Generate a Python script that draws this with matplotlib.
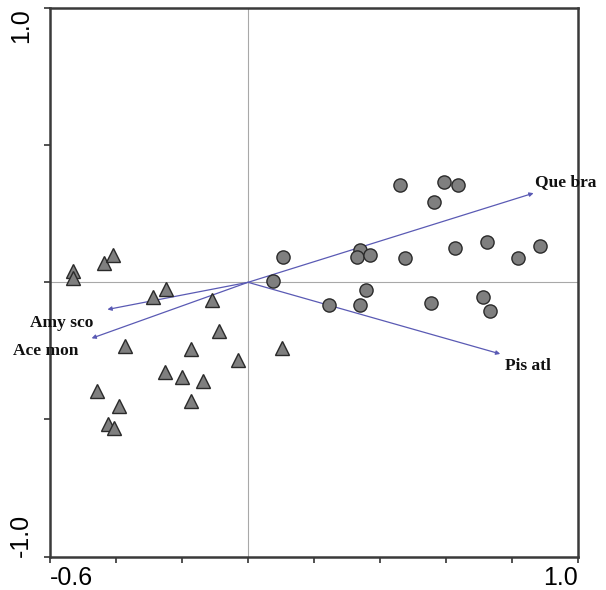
import matplotlib.pyplot as plt

# site scores
circle_x = [0.461, 0.595, 0.637, 0.562, 0.105, 0.339, 0.329, 0.368, 0.476, 0.627,
            0.725, 0.819, 0.883, 0.075, 0.358, 0.246, 0.339, 0.555, 0.711, 0.733]
circle_y = [0.353, 0.365, 0.355, 0.292, 0.094, 0.118, 0.094, 0.100, 0.089, 0.124,
            0.146, 0.089, 0.134, 0.006, -0.028, -0.082, -0.081, -0.076, -0.055, -0.103]

tri_x = [-0.531, -0.531, -0.436, -0.410, -0.248, -0.289, -0.109, -0.087, -0.372, -0.173,
         -0.031, 0.104, -0.251, -0.201, -0.137, -0.458, -0.391, -0.173, -0.425, -0.405]
tri_y = [0.043, 0.016, 0.069, 0.101, -0.024, -0.052, -0.064, -0.179, -0.231, -0.242,
         -0.282, -0.239, -0.328, -0.344, -0.359, -0.395, -0.450, -0.434, -0.515, -0.531]

# species arrows
species = ['Amy sco', 'Ace mon', 'Que bra', 'Pis atl']
arrow_x = [-0.426, -0.474, 0.865, 0.764]
arrow_y = [-0.099, -0.204, 0.325, -0.261]
label_x = [-0.661, -0.712, 0.870, 0.779]
label_y = [-0.147, -0.249, 0.364, -0.304]

xticks = [-0.6, -0.4, -0.2, 0.0, 0.2, 0.4, 0.6, 0.8, 1.0]
yticks = [-1.0, -0.5, 0.0, 0.5, 1.0]

fig = plt.figure(figsize=(6.06, 5.90), dpi=100)
ax = fig.add_axes([0.0825, 0.0565, 0.8715, 0.930])

ax.axhline(0, color='#a8a8a8', linewidth=0.8, zorder=1)
ax.axvline(0, color='#a8a8a8', linewidth=0.8, zorder=1)

for i in range(len(species)):
    ax.annotate('', xy=(arrow_x[i], arrow_y[i]), xytext=(0, 0),
                arrowprops=dict(arrowstyle='-|>', color='#5a5ab4', lw=0.9,
                                mutation_scale=6, shrinkA=0, shrinkB=0),
                zorder=2)
    ax.text(label_x[i], label_y[i], species[i], fontsize=12.5, fontweight='bold',
            family='Liberation Serif', va='center', ha='left', clip_on=False,
            color='#111111')

ax.plot(circle_x, circle_y, 'o', ms=9.5, mfc='#7f7f7f', mec='#2a2a2a', mew=1.0,
        linestyle='none', zorder=3)
ax.plot(tri_x, tri_y, '^', ms=9.5, mfc='#7f7f7f', mec='#2a2a2a', mew=1.0,
        linestyle='none', zorder=3)

ax.set_xlim(-0.6, 1.0)
ax.set_ylim(-1.0, 1.0)
ax.set_xticks(xticks)
ax.set_xticklabels(['-0.6'] + [''] * 7 + ['1.0'])
ax.set_yticks(yticks)
ax.set_yticklabels(['-1.0', '', '', '', '1.0'], rotation=90)
ax.tick_params(direction='out', length=4, width=1.2, color='#333333',
               labelsize=18)
ax.tick_params(axis='x', pad=3)
ax.tick_params(axis='y', pad=8)

xl = ax.get_xticklabels()
xl[0].set_ha('left')
xl[-1].set_ha('right')
yl = ax.get_yticklabels()
yl[0].set_va('bottom')
yl[-1].set_va('top')
for lab in xl + yl:
    lab.set_family('Liberation Sans')

for s in ax.spines.values():
    s.set_linewidth(1.8)
    s.set_color('#3a3a3a')

fig.savefig('out.png', dpi=100)
